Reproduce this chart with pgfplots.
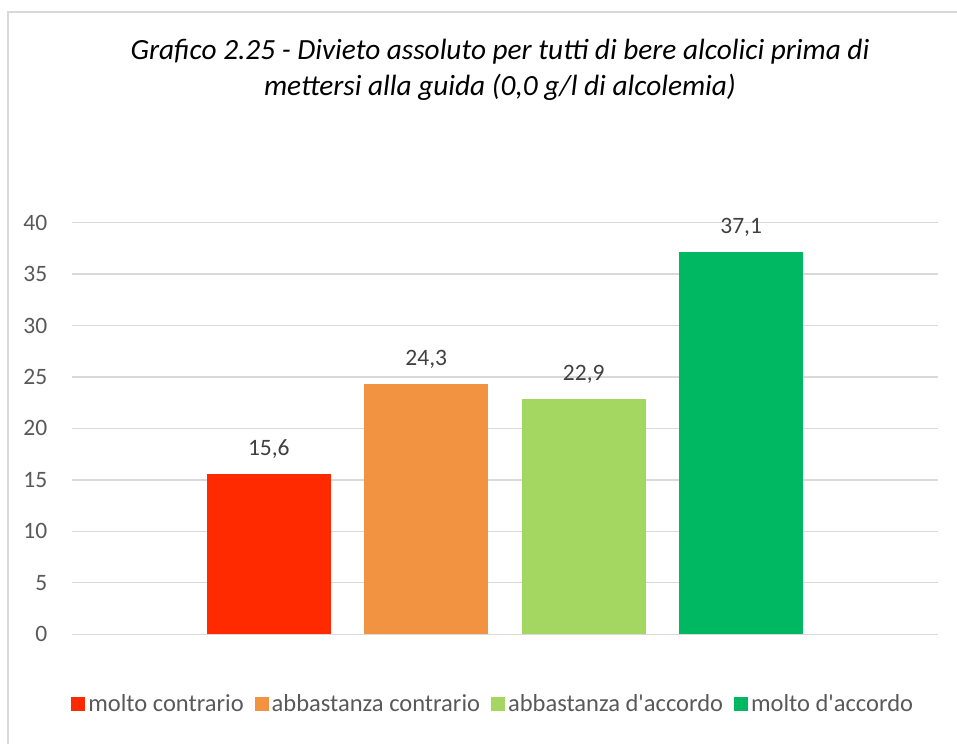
\documentclass[border=0pt]{standalone}
\usepackage{fontspec}
\setmainfont{Carlito}
\usepackage{pgfplots}
\pgfplotsset{compat=1.18}
\definecolor{cRed}{HTML}{FF2A00}
\definecolor{cOrange}{HTML}{F29341}
\definecolor{cLgreen}{HTML}{A3D762}
\definecolor{cGreen}{HTML}{00B862}
\definecolor{cGrid}{HTML}{D9D9D9}
\definecolor{cText}{HTML}{595959}
\definecolor{cLabel}{HTML}{404040}
\definecolor{cFrame}{HTML}{D9D9D9}
\begin{document}
\begin{tikzpicture}
\path[use as bounding box] (0,0) rectangle (957bp,744bp);
\draw[cFrame, line width=1.5bp] (8bp,0) -- (8bp,732bp) -- (957bp,732bp);
\node[align=center, font=\fontsize{29.3bp}{36bp}\selectfont\itshape, text=black] at (500bp,674bp)
  {Grafico 2.25 - Divieto assoluto per tutti di bere alcolici prima di\\mettersi alla guida (0,0 g/l di alcolemia)};
\begin{axis}[
  at={(72bp,109.7bp)}, anchor=south west,
  scale only axis, width=866bp, height=411.7bp,
  ybar, bar width=0.788, bar shift=0pt,
  xmin=-0.25, xmax=5.25, ymin=0, ymax=40,
  ytick={0,5,...,40}, xtick=\empty,
  major tick length=0pt,
  axis line style={draw=none},
  ymajorgrids, grid style={cGrid, line width=1.3bp},
  tick label style={font=\fontsize{23.5bp}{28bp}\selectfont, text=cText},
  yticklabel style={inner sep=0pt, xshift=-24.5bp},
  /pgf/number format/assume math mode=true,
  nodes near coords={\pgfmathprintnumber[use comma,fixed,fixed zerofill,precision=1]{\pgfplotspointmeta}},
  nodes near coords style={font=\fontsize{23.5bp}{28bp}\selectfont, text=cLabel, yshift=12bp},
  legend columns=4,
  legend style={at={(0.487,-0.1693)}, anchor=center, draw=none, fill=none,
    font=\fontsize{24.5bp}{28bp}\selectfont, text=cText,
    /tikz/every even column/.append style={column sep=8bp},
    nodes={inner sep=3bp}},
  legend image code/.code={\path[#1, draw=none] (0bp,-7bp) rectangle (14bp,7bp);},
]
\addplot[fill=cRed, draw=none] coordinates {(1,15.6)};
\addplot[fill=cOrange, draw=none] coordinates {(2,24.3)};
\addplot[fill=cLgreen, draw=none] coordinates {(3,22.9)};
\addplot[fill=cGreen, draw=none] coordinates {(4,37.1)};
\legend{molto contrario, abbastanza contrario, abbastanza d\textquotesingle accordo, molto d\textquotesingle accordo}
\end{axis}
\end{tikzpicture}
\end{document}
